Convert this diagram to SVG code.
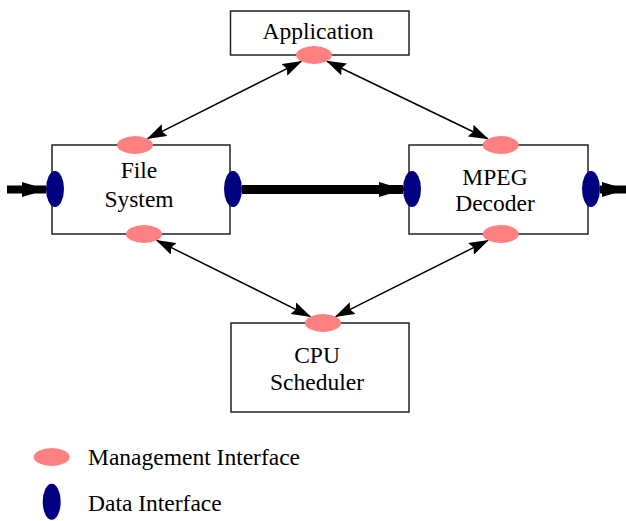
<svg xmlns="http://www.w3.org/2000/svg" width="626" height="521" viewBox="0 0 626 521">
<style>
.box{fill:#fff;stroke:#222;stroke-width:1.5}
.mi{fill:#ff8080}
.di{fill:#000080}
.t{font-family:"Liberation Serif","Times New Roman",serif;font-size:23.5px;fill:#000}
.c{text-anchor:middle}
.thin{stroke:#000;stroke-width:1.5;fill:none;marker-start:url(#ah);marker-end:url(#ah)}
.thick{stroke:#000;fill:none;marker-end:url(#bh)}
</style>
<defs>
<marker id="ah" markerUnits="userSpaceOnUse" markerWidth="20" markerHeight="13" refX="19" refY="6.5" orient="auto-start-reverse" viewBox="0 0 20 13">
<path d="M0,0 L20,6.5 L0,13 L3,6.5 z" fill="#000"/>
</marker>
<marker id="bh" markerUnits="userSpaceOnUse" markerWidth="25" markerHeight="15" refX="24" refY="7.5" orient="auto" viewBox="0 0 25 15">
<path d="M0,0 L25,7.5 L0,15 z" fill="#000"/>
</marker>
</defs>
<g id="connectors">
<line class="thin" x1="147.7" y1="138.6" x2="301.3" y2="61.4"/>
<line class="thin" x1="327" y1="61.2" x2="487.7" y2="138.8"/>
<line class="thin" x1="156.8" y1="240.4" x2="310.2" y2="316.6"/>
<line class="thin" x1="488" y1="240.4" x2="335.7" y2="316.6"/>
<line class="thick" stroke-width="9" x1="242" y1="189.5" x2="403" y2="189.5"/>
<line class="thick" stroke-width="8" x1="7" y1="189.5" x2="46" y2="189.5"/>
<line class="thick" stroke-width="8" x1="600" y1="189.5" x2="626" y2="189.5"/>
</g>
<g id="application">
<rect class="box" x="230.5" y="11" width="178.5" height="44"/>
<text class="t c" x="318" y="39">Application</text>
<ellipse class="mi" cx="314" cy="55" rx="18" ry="9"/>
</g>
<g id="file-system">
<rect class="box" x="52" y="145" width="178" height="89"/>
<text class="t c" x="139" y="178">File</text>
<text class="t c" x="139" y="206.5">System</text>
<ellipse class="mi" cx="135" cy="145" rx="18" ry="9"/>
<ellipse class="mi" cx="144" cy="234" rx="18" ry="9"/>
<ellipse class="di" cx="55" cy="189" rx="9" ry="18"/>
<ellipse class="di" cx="233" cy="189" rx="9" ry="18"/>
</g>
<g id="mpeg-decoder">
<rect class="box" x="409" y="145" width="179" height="89"/>
<text class="t c" x="495" y="185">MPEG</text>
<text class="t c" x="495" y="211">Decoder</text>
<ellipse class="mi" cx="500.7" cy="145" rx="18" ry="9"/>
<ellipse class="mi" cx="500.7" cy="234" rx="18" ry="9"/>
<ellipse class="di" cx="412" cy="189" rx="9" ry="18"/>
<ellipse class="di" cx="591" cy="189" rx="9" ry="18"/>
</g>
<g id="cpu-scheduler">
<rect class="box" x="231" y="323" width="178" height="89"/>
<text class="t c" x="317" y="363">CPU</text>
<text class="t c" x="317" y="390">Scheduler</text>
<ellipse class="mi" cx="323" cy="323" rx="18" ry="9"/>
</g>
<g id="legend">
<ellipse class="mi" cx="51.7" cy="457" rx="18" ry="9"/>
<text class="t" x="88" y="465">Management Interface</text>
<ellipse class="di" cx="51.7" cy="501.7" rx="9" ry="18"/>
<text class="t" x="88" y="511">Data Interface</text>
</g>
</svg>
